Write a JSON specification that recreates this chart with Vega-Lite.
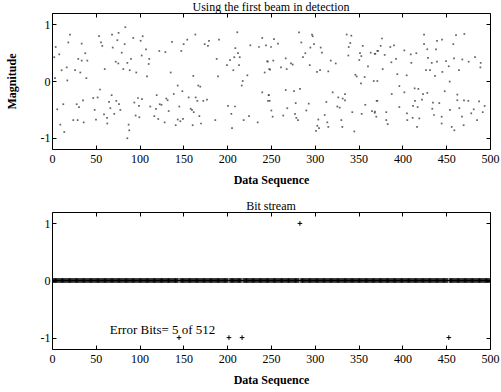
{
  "$schema": "https://vega.github.io/schema/vega-lite/v6.json",
  "padding": {"left": 4, "top": 0, "right": 0, "bottom": 0},
  "background": "white",
  "spacing": 13,
  "config": {
    "font": "Liberation Serif",
    "view": {"stroke": "black", "strokeWidth": 1},
    "axis": {"domain": false, "grid": false, "ticks": true, "tickSize": -4, "tickColor": "black", "labelFont": "Liberation Serif", "labelFontSize": 12, "labelColor": "black", "titleFont": "Liberation Serif", "titleFontSize": 12, "titleFontWeight": "bold", "titleColor": "black"},
    "axisX": {"labelPadding": 8},
    "axisY": {"labelPadding": 6},
    "title": {"font": "Liberation Serif", "fontSize": 12, "fontWeight": "normal", "color": "black", "offset": -1}
  },
  "vconcat": [
    {
      "width": 438, "height": 136,
      "title": "Using the first beam in detection",
      "data": {"values": [
{"n":83.7,"m":0.95},{"n":20.5,"m":0.82},{"n":53.7,"m":0.79},{"n":68.5,"m":0.82},{"n":92.8,"m":0.76},{"n":103.5,"m":0.79},{"n":76,"m":0.85},{"n":74.6,"m":0.72},{"n":101.2,"m":0.71},{"n":18.6,"m":0.68},{"n":33.9,"m":0.66},{"n":55.9,"m":0.68},{"n":57.4,"m":0.62},{"n":83,"m":0.65},{"n":69.3,"m":0.59},{"n":4.2,"m":0.6},{"n":107.3,"m":0.56},{"n":122.5,"m":0.53},{"n":79.6,"m":0.5},{"n":38,"m":0.49},{"n":8.3,"m":0.47},{"n":102.4,"m":0.45},{"n":2.6,"m":0.42},{"n":30,"m":0.39},{"n":111,"m":0.39},{"n":90.2,"m":0.39},{"n":33.9,"m":0.36},{"n":40.3,"m":0.36},{"n":72.7,"m":0.34},{"n":75.7,"m":0.31},{"n":86,"m":0.32},{"n":110.4,"m":0.3},{"n":16.8,"m":0.24},{"n":11,"m":0.19},{"n":26.3,"m":0.19},{"n":32.3,"m":0.15},{"n":60.2,"m":0.21},{"n":81.4,"m":0.21},{"n":88.7,"m":0.19},{"n":96.2,"m":0.15},{"n":108.4,"m":0.08},{"n":39.2,"m":0.05},{"n":3.4,"m":0.05},{"n":17.5,"m":0.01},{"n":54.8,"m":-0.15},{"n":68.1,"m":-0.25},{"n":119.5,"m":-0.25},{"n":47.1,"m":-0.3},{"n":52.1,"m":-0.29},{"n":35.4,"m":-0.34},{"n":98.2,"m":-0.3},{"n":102.7,"m":-0.32},{"n":73.4,"m":-0.35},{"n":65.1,"m":-0.37},{"n":94,"m":-0.38},{"n":12.9,"m":-0.41},{"n":28.2,"m":-0.41},{"n":76.5,"m":-0.41},{"n":99.3,"m":-0.44},{"n":123,"m":-0.41},{"n":112.2,"m":-0.45},{"n":30.8,"m":-0.46},{"n":66.6,"m":-0.48},{"n":6,"m":-0.5},{"n":48.7,"m":-0.51},{"n":78,"m":-0.51},{"n":118.7,"m":-0.49},{"n":59.4,"m":-0.59},{"n":71.1,"m":-0.58},{"n":95.5,"m":-0.61},{"n":99.7,"m":-0.64},{"n":116.8,"m":-0.62},{"n":121.3,"m":-0.67},{"n":24.3,"m":-0.69},{"n":29.3,"m":-0.69},{"n":50.2,"m":-0.68},{"n":62.8,"m":-0.65},{"n":36.2,"m":-0.73},{"n":9.5,"m":-0.77},{"n":87.5,"m":-0.77},{"n":63.1,"m":-0.75},{"n":88.2,"m":-0.87},{"n":14,"m":-0.9},{"n":86,"m":-1.01},
{"n":163.6,"m":0.82},{"n":211.5,"m":0.86},{"n":150.3,"m":0.65},{"n":154.4,"m":0.73},{"n":137,"m":0.69},{"n":174.3,"m":0.65},{"n":179.2,"m":0.71},{"n":190.6,"m":0.73},{"n":178,"m":0.62},{"n":129.4,"m":0.51},{"n":147.6,"m":0.53},{"n":226.4,"m":0.63},{"n":240,"m":0.76},{"n":244.3,"m":0.63},{"n":236.3,"m":0.6},{"n":209.3,"m":0.58},{"n":212.3,"m":0.49},{"n":214.3,"m":0.42},{"n":208.1,"m":0.42},{"n":188,"m":0.39},{"n":203.2,"m":0.37},{"n":245.8,"m":0.35},{"n":213.5,"m":0.28},{"n":199.8,"m":0.28},{"n":207,"m":0.19},{"n":248,"m":0.21},{"n":242.8,"m":0.15},{"n":135.5,"m":0.15},{"n":161.3,"m":0.09},{"n":223,"m":0.1},{"n":189.5,"m":0.08},{"n":217.7,"m":0.0},{"n":143.5,"m":-0.08},{"n":167,"m":-0.08},{"n":169.3,"m":-0.1},{"n":216.6,"m":-0.08},{"n":148.8,"m":-0.18},{"n":139,"m":-0.23},{"n":240,"m":-0.2},{"n":247.4,"m":-0.25},{"n":156,"m":-0.29},{"n":164,"m":-0.29},{"n":130.5,"m":-0.31},{"n":132,"m":-0.34},{"n":172.7,"m":-0.35},{"n":176.9,"m":-0.33},{"n":165.9,"m":-0.35},{"n":248.5,"m":-0.35},{"n":125,"m":-0.42},{"n":200.9,"m":-0.44},{"n":208.9,"m":-0.45},{"n":145.3,"m":-0.45},{"n":158.3,"m":-0.49},{"n":159.8,"m":-0.51},{"n":133.2,"m":-0.53},{"n":161.8,"m":-0.55},{"n":204.7,"m":-0.58},{"n":168.2,"m":-0.62},{"n":224.9,"m":-0.62},{"n":143.5,"m":-0.68},{"n":149.5,"m":-0.67},{"n":146.5,"m":-0.71},{"n":186.4,"m":-0.69},{"n":218.8,"m":-0.69},{"n":234.8,"m":-0.73},{"n":128.6,"m":-0.73},{"n":170.1,"m":-0.75},{"n":141.2,"m":-0.78},{"n":160.6,"m":-0.78},{"n":205.5,"m":-0.83},
{"n":297.6,"m":0.79},{"n":296.8,"m":0.82},{"n":282,"m":0.86},{"n":336.4,"m":0.82},{"n":341.7,"m":0.8},{"n":253.4,"m":0.74},{"n":284.6,"m":0.68},{"n":258,"m":0.66},{"n":340.5,"m":0.67},{"n":299.1,"m":0.65},{"n":354.7,"m":0.62},{"n":250,"m":0.6},{"n":294.9,"m":0.59},{"n":306.7,"m":0.59},{"n":338.7,"m":0.6},{"n":289.2,"m":0.49},{"n":308.2,"m":0.5},{"n":351.6,"m":0.49},{"n":363.8,"m":0.5},{"n":369.1,"m":0.48},{"n":371.4,"m":0.53},{"n":353.1,"m":0.44},{"n":266.8,"m":0.4},{"n":286.5,"m":0.42},{"n":246.2,"m":0.34},{"n":252.6,"m":0.36},{"n":272.8,"m":0.31},{"n":274.8,"m":0.29},{"n":318.2,"m":0.36},{"n":323.9,"m":0.31},{"n":338.3,"m":0.45},{"n":350.8,"m":0.37},{"n":360.7,"m":0.26},{"n":294.2,"m":0.28},{"n":261.4,"m":0.24},{"n":267.9,"m":0.21},{"n":248.9,"m":0.2},{"n":302.5,"m":0.16},{"n":315.4,"m":0.17},{"n":306,"m":0.19},{"n":346.3,"m":0.11},{"n":347.8,"m":0.08},{"n":356.9,"m":0.07},{"n":352.7,"m":-0.04},{"n":367.3,"m":0.0},{"n":266.8,"m":-0.16},{"n":283.1,"m":-0.14},{"n":276.3,"m":-0.18},{"n":320.4,"m":-0.2},{"n":334.5,"m":-0.23},{"n":247.4,"m":-0.25},{"n":326.8,"m":-0.29},{"n":331.8,"m":-0.31},{"n":334.5,"m":-0.34},{"n":246.6,"m":-0.35},{"n":313.2,"m":-0.37},{"n":293.1,"m":-0.4},{"n":371.4,"m":-0.35},{"n":357.6,"m":-0.42},{"n":278.2,"m":-0.39},{"n":325.7,"m":-0.45},{"n":328.4,"m":-0.47},{"n":268.6,"m":-0.48},{"n":250.4,"m":-0.52},{"n":290.3,"m":-0.52},{"n":342.8,"m":-0.55},{"n":365.3,"m":-0.53},{"n":368.4,"m":-0.56},{"n":277.4,"m":-0.58},{"n":311.3,"m":-0.6},{"n":353.5,"m":-0.58},{"n":251.9,"m":-0.63},{"n":264,"m":-0.61},{"n":278.9,"m":-0.65},{"n":280.8,"m":-0.69},{"n":304,"m":-0.68},{"n":330.3,"m":-0.69},{"n":314.3,"m":-0.73},{"n":370.2,"m":-0.63},{"n":302.9,"m":-0.79},{"n":315.4,"m":-0.81},{"n":304.8,"m":-0.83},{"n":331.4,"m":-0.81},{"n":301.4,"m":-0.88},{"n":345.1,"m":-0.89},
{"n":424.7,"m":0.82},{"n":461.2,"m":0.81},{"n":470.7,"m":0.83},{"n":376.7,"m":0.75},{"n":439.5,"m":0.71},{"n":445.2,"m":0.73},{"n":424.7,"m":0.65},{"n":458.1,"m":0.65},{"n":375.2,"m":0.62},{"n":386.2,"m":0.6},{"n":390.4,"m":0.63},{"n":428.4,"m":0.56},{"n":438.4,"m":0.56},{"n":402.2,"m":0.54},{"n":415.9,"m":0.49},{"n":409.5,"m":0.47},{"n":368.4,"m":0.48},{"n":379.8,"m":0.46},{"n":372.2,"m":0.53},{"n":429.2,"m":0.41},{"n":458.9,"m":0.4},{"n":468.4,"m":0.38},{"n":482.9,"m":0.42},{"n":489.4,"m":0.32},{"n":392.7,"m":0.39},{"n":387.4,"m":0.33},{"n":410.2,"m":0.32},{"n":433.5,"m":0.32},{"n":439.5,"m":0.34},{"n":449.8,"m":0.35},{"n":475.7,"m":0.34},{"n":489,"m":0.24},{"n":452.9,"m":0.26},{"n":377.5,"m":0.21},{"n":426.9,"m":0.19},{"n":431.5,"m":0.19},{"n":445.6,"m":0.16},{"n":464.6,"m":0.19},{"n":394.2,"m":0.12},{"n":404.9,"m":0.1},{"n":437.2,"m":0.09},{"n":371.4,"m":0.0},{"n":454,"m":-0.01},{"n":396.5,"m":-0.09},{"n":414,"m":-0.13},{"n":418.2,"m":-0.14},{"n":448.3,"m":-0.18},{"n":387.8,"m":-0.23},{"n":402.2,"m":-0.2},{"n":423.5,"m":-0.23},{"n":428.4,"m":-0.21},{"n":462.7,"m":-0.24},{"n":370.6,"m":-0.35},{"n":414.4,"m":-0.35},{"n":422.4,"m":-0.33},{"n":434.9,"m":-0.38},{"n":442.1,"m":-0.39},{"n":462.7,"m":-0.34},{"n":470.3,"m":-0.34},{"n":475.2,"m":-0.35},{"n":487.5,"m":-0.36},{"n":396.5,"m":-0.46},{"n":417.4,"m":-0.46},{"n":412.1,"m":-0.44},{"n":465,"m":-0.48},{"n":481.4,"m":-0.5},{"n":493.9,"m":-0.44},{"n":434.1,"m":-0.49},{"n":454.3,"m":-0.51},{"n":368.7,"m":-0.54},{"n":381.6,"m":-0.55},{"n":405.2,"m":-0.57},{"n":436.1,"m":-0.6},{"n":478.6,"m":-0.57},{"n":491.7,"m":-0.55},{"n":411.7,"m":-0.65},{"n":419.3,"m":-0.66},{"n":444.8,"m":-0.63},{"n":468,"m":-0.63},{"n":381.6,"m":-0.69},{"n":405.6,"m":-0.69},{"n":485.2,"m":-0.69},{"n":383.2,"m":-0.76},{"n":444.8,"m":-0.75},{"n":469.9,"m":-0.78},{"n":416.7,"m":-0.81},{"n":456.3,"m":-0.81},{"n":459.3,"m":-0.87}
      ]},
      "layer": [
        {
          "mark": {"type": "point", "shape": "square", "filled": true, "size": 3, "color": "#4a4a4a", "opacity": 0.85, "clip": true},
          "encoding": {
            "x": {"field": "n", "type": "quantitative", "scale": {"domain": [0, 500], "nice": false, "zero": false},
                  "axis": {"orient": "bottom", "values": [0,50,100,150,200,250,300,350,400,450,500], "title": "Data Sequence", "titlePadding": 10, "labelFlush": false, "labelOverlap": false}},
            "y": {"field": "m", "type": "quantitative", "scale": {"domain": [-1.2, 1.2], "nice": false, "zero": false},
                  "axis": {"orient": "left", "values": [-1, 0, 1], "title": "Magnitude", "titlePadding": 22, "labelExpr": "datum.value < 0 ? '-' + abs(datum.value) : datum.label"}}
          }
        },
        {
          "mark": {"type": "point", "opacity": 0},
          "encoding": {
            "x": {"field": "n", "type": "quantitative", "scale": {"domain": [0, 500], "nice": false, "zero": false},
                  "axis": {"orient": "top", "values": [0,50,100,150,200,250,300,350,400,450,500], "labels": false, "title": null}},
            "y": {"field": "m", "type": "quantitative", "scale": {"domain": [-1.2, 1.2], "nice": false, "zero": false},
                  "axis": {"orient": "right", "values": [-1, 0, 1], "labels": false, "title": null}}
          }
        }
      ],
      "resolve": {"axis": {"x": "independent", "y": "independent"}}
    },
    {
      "width": 438, "height": 137,
      "title": "Bit stream",
      "layer": [
        {
          "data": {"values": [
{"n":1,"b":0},{"n":2,"b":0},{"n":3,"b":0},{"n":4,"b":0},{"n":5,"b":0},{"n":6,"b":0},{"n":7,"b":0},{"n":8,"b":0},{"n":9,"b":0},{"n":10,"b":0},
{"n":11,"b":0},{"n":12,"b":0},{"n":13,"b":0},{"n":14,"b":0},{"n":15,"b":0},{"n":16,"b":0},{"n":17,"b":0},{"n":18,"b":0},{"n":19,"b":0},{"n":20,"b":0},
{"n":21,"b":0},{"n":22,"b":0},{"n":23,"b":0},{"n":24,"b":0},{"n":25,"b":0},{"n":26,"b":0},{"n":27,"b":0},{"n":28,"b":0},{"n":29,"b":0},{"n":30,"b":0},
{"n":31,"b":0},{"n":32,"b":0},{"n":33,"b":0},{"n":34,"b":0},{"n":35,"b":0},{"n":36,"b":0},{"n":37,"b":0},{"n":38,"b":0},{"n":39,"b":0},{"n":40,"b":0},
{"n":41,"b":0},{"n":42,"b":0},{"n":43,"b":0},{"n":44,"b":0},{"n":45,"b":0},{"n":46,"b":0},{"n":47,"b":0},{"n":48,"b":0},{"n":49,"b":0},{"n":50,"b":0},
{"n":51,"b":0},{"n":52,"b":0},{"n":53,"b":0},{"n":54,"b":0},{"n":55,"b":0},{"n":56,"b":0},{"n":57,"b":0},{"n":58,"b":0},{"n":59,"b":0},{"n":60,"b":0},
{"n":61,"b":0},{"n":62,"b":0},{"n":63,"b":0},{"n":64,"b":0},{"n":65,"b":0},{"n":66,"b":0},{"n":67,"b":0},{"n":68,"b":0},{"n":69,"b":0},{"n":70,"b":0},
{"n":71,"b":0},{"n":72,"b":0},{"n":73,"b":0},{"n":74,"b":0},{"n":75,"b":0},{"n":76,"b":0},{"n":77,"b":0},{"n":78,"b":0},{"n":79,"b":0},{"n":80,"b":0},
{"n":81,"b":0},{"n":82,"b":0},{"n":83,"b":0},{"n":84,"b":0},{"n":85,"b":0},{"n":86,"b":0},{"n":87,"b":0},{"n":88,"b":0},{"n":89,"b":0},{"n":90,"b":0},
{"n":91,"b":0},{"n":92,"b":0},{"n":93,"b":0},{"n":94,"b":0},{"n":95,"b":0},{"n":96,"b":0},{"n":97,"b":0},{"n":98,"b":0},{"n":99,"b":0},{"n":100,"b":0},
{"n":101,"b":0},{"n":102,"b":0},{"n":103,"b":0},{"n":104,"b":0},{"n":105,"b":0},{"n":106,"b":0},{"n":107,"b":0},{"n":108,"b":0},{"n":109,"b":0},{"n":110,"b":0},
{"n":111,"b":0},{"n":112,"b":0},{"n":113,"b":0},{"n":114,"b":0},{"n":115,"b":0},{"n":116,"b":0},{"n":117,"b":0},{"n":118,"b":0},{"n":119,"b":0},{"n":120,"b":0},
{"n":121,"b":0},{"n":122,"b":0},{"n":123,"b":0},{"n":124,"b":0},{"n":125,"b":0},{"n":126,"b":0},{"n":127,"b":0},{"n":128,"b":0},{"n":129,"b":0},{"n":130,"b":0},
{"n":131,"b":0},{"n":132,"b":0},{"n":133,"b":0},{"n":134,"b":0},{"n":135,"b":0},{"n":136,"b":0},{"n":137,"b":0},{"n":138,"b":0},{"n":139,"b":0},{"n":140,"b":0},
{"n":141,"b":0},{"n":142,"b":0},{"n":143,"b":0},{"n":144,"b":0},{"n":145,"b":-1},{"n":146,"b":0},{"n":147,"b":0},{"n":148,"b":0},{"n":149,"b":0},{"n":150,"b":0},
{"n":151,"b":0},{"n":152,"b":0},{"n":153,"b":0},{"n":154,"b":0},{"n":155,"b":0},{"n":156,"b":0},{"n":157,"b":0},{"n":158,"b":0},{"n":159,"b":0},{"n":160,"b":0},
{"n":161,"b":0},{"n":162,"b":0},{"n":163,"b":0},{"n":164,"b":0},{"n":165,"b":0},{"n":166,"b":0},{"n":167,"b":0},{"n":168,"b":0},{"n":169,"b":0},{"n":170,"b":0},
{"n":171,"b":0},{"n":172,"b":0},{"n":173,"b":0},{"n":174,"b":0},{"n":175,"b":0},{"n":176,"b":0},{"n":177,"b":0},{"n":178,"b":0},{"n":179,"b":0},{"n":180,"b":0},
{"n":181,"b":0},{"n":182,"b":0},{"n":183,"b":0},{"n":184,"b":0},{"n":185,"b":0},{"n":186,"b":0},{"n":187,"b":0},{"n":188,"b":0},{"n":189,"b":0},{"n":190,"b":0},
{"n":191,"b":0},{"n":192,"b":0},{"n":193,"b":0},{"n":194,"b":0},{"n":195,"b":0},{"n":196,"b":0},{"n":197,"b":0},{"n":198,"b":0},{"n":199,"b":0},{"n":200,"b":0},
{"n":201,"b":0},{"n":202,"b":-1},{"n":203,"b":0},{"n":204,"b":0},{"n":205,"b":0},{"n":206,"b":0},{"n":207,"b":0},{"n":208,"b":0},{"n":209,"b":0},{"n":210,"b":0},
{"n":211,"b":0},{"n":212,"b":0},{"n":213,"b":0},{"n":214,"b":0},{"n":215,"b":0},{"n":216,"b":0},{"n":217,"b":-1},{"n":218,"b":0},{"n":219,"b":0},{"n":220,"b":0},
{"n":221,"b":0},{"n":222,"b":0},{"n":223,"b":0},{"n":224,"b":0},{"n":225,"b":0},{"n":226,"b":0},{"n":227,"b":0},{"n":228,"b":0},{"n":229,"b":0},{"n":230,"b":0},
{"n":231,"b":0},{"n":232,"b":0},{"n":233,"b":0},{"n":234,"b":0},{"n":235,"b":0},{"n":236,"b":0},{"n":237,"b":0},{"n":238,"b":0},{"n":239,"b":0},{"n":240,"b":0},
{"n":241,"b":0},{"n":242,"b":0},{"n":243,"b":0},{"n":244,"b":0},{"n":245,"b":0},{"n":246,"b":0},{"n":247,"b":0},{"n":248,"b":0},{"n":249,"b":0},{"n":250,"b":0},
{"n":251,"b":0},{"n":252,"b":0},{"n":253,"b":0},{"n":254,"b":0},{"n":255,"b":0},{"n":256,"b":0},{"n":257,"b":0},{"n":258,"b":0},{"n":259,"b":0},{"n":260,"b":0},
{"n":261,"b":0},{"n":262,"b":0},{"n":263,"b":0},{"n":264,"b":0},{"n":265,"b":0},{"n":266,"b":0},{"n":267,"b":0},{"n":268,"b":0},{"n":269,"b":0},{"n":270,"b":0},
{"n":271,"b":0},{"n":272,"b":0},{"n":273,"b":0},{"n":274,"b":0},{"n":275,"b":0},{"n":276,"b":0},{"n":277,"b":0},{"n":278,"b":0},{"n":279,"b":0},{"n":280,"b":0},
{"n":281,"b":0},{"n":282,"b":0},{"n":283,"b":1},{"n":284,"b":0},{"n":285,"b":0},{"n":286,"b":0},{"n":287,"b":0},{"n":288,"b":0},{"n":289,"b":0},{"n":290,"b":0},
{"n":291,"b":0},{"n":292,"b":0},{"n":293,"b":0},{"n":294,"b":0},{"n":295,"b":0},{"n":296,"b":0},{"n":297,"b":0},{"n":298,"b":0},{"n":299,"b":0},{"n":300,"b":0},
{"n":301,"b":0},{"n":302,"b":0},{"n":303,"b":0},{"n":304,"b":0},{"n":305,"b":0},{"n":306,"b":0},{"n":307,"b":0},{"n":308,"b":0},{"n":309,"b":0},{"n":310,"b":0},
{"n":311,"b":0},{"n":312,"b":0},{"n":313,"b":0},{"n":314,"b":0},{"n":315,"b":0},{"n":316,"b":0},{"n":317,"b":0},{"n":318,"b":0},{"n":319,"b":0},{"n":320,"b":0},
{"n":321,"b":0},{"n":322,"b":0},{"n":323,"b":0},{"n":324,"b":0},{"n":325,"b":0},{"n":326,"b":0},{"n":327,"b":0},{"n":328,"b":0},{"n":329,"b":0},{"n":330,"b":0},
{"n":331,"b":0},{"n":332,"b":0},{"n":333,"b":0},{"n":334,"b":0},{"n":335,"b":0},{"n":336,"b":0},{"n":337,"b":0},{"n":338,"b":0},{"n":339,"b":0},{"n":340,"b":0},
{"n":341,"b":0},{"n":342,"b":0},{"n":343,"b":0},{"n":344,"b":0},{"n":345,"b":0},{"n":346,"b":0},{"n":347,"b":0},{"n":348,"b":0},{"n":349,"b":0},{"n":350,"b":0},
{"n":351,"b":0},{"n":352,"b":0},{"n":353,"b":0},{"n":354,"b":0},{"n":355,"b":0},{"n":356,"b":0},{"n":357,"b":0},{"n":358,"b":0},{"n":359,"b":0},{"n":360,"b":0},
{"n":361,"b":0},{"n":362,"b":0},{"n":363,"b":0},{"n":364,"b":0},{"n":365,"b":0},{"n":366,"b":0},{"n":367,"b":0},{"n":368,"b":0},{"n":369,"b":0},{"n":370,"b":0},
{"n":371,"b":0},{"n":372,"b":0},{"n":373,"b":0},{"n":374,"b":0},{"n":375,"b":0},{"n":376,"b":0},{"n":377,"b":0},{"n":378,"b":0},{"n":379,"b":0},{"n":380,"b":0},
{"n":381,"b":0},{"n":382,"b":0},{"n":383,"b":0},{"n":384,"b":0},{"n":385,"b":0},{"n":386,"b":0},{"n":387,"b":0},{"n":388,"b":0},{"n":389,"b":0},{"n":390,"b":0},
{"n":391,"b":0},{"n":392,"b":0},{"n":393,"b":0},{"n":394,"b":0},{"n":395,"b":0},{"n":396,"b":0},{"n":397,"b":0},{"n":398,"b":0},{"n":399,"b":0},{"n":400,"b":0},
{"n":401,"b":0},{"n":402,"b":0},{"n":403,"b":0},{"n":404,"b":0},{"n":405,"b":0},{"n":406,"b":0},{"n":407,"b":0},{"n":408,"b":0},{"n":409,"b":0},{"n":410,"b":0},
{"n":411,"b":0},{"n":412,"b":0},{"n":413,"b":0},{"n":414,"b":0},{"n":415,"b":0},{"n":416,"b":0},{"n":417,"b":0},{"n":418,"b":0},{"n":419,"b":0},{"n":420,"b":0},
{"n":421,"b":0},{"n":422,"b":0},{"n":423,"b":0},{"n":424,"b":0},{"n":425,"b":0},{"n":426,"b":0},{"n":427,"b":0},{"n":428,"b":0},{"n":429,"b":0},{"n":430,"b":0},
{"n":431,"b":0},{"n":432,"b":0},{"n":433,"b":0},{"n":434,"b":0},{"n":435,"b":0},{"n":436,"b":0},{"n":437,"b":0},{"n":438,"b":0},{"n":439,"b":0},{"n":440,"b":0},
{"n":441,"b":0},{"n":442,"b":0},{"n":443,"b":0},{"n":444,"b":0},{"n":445,"b":0},{"n":446,"b":0},{"n":447,"b":0},{"n":448,"b":0},{"n":449,"b":0},{"n":450,"b":0},
{"n":451,"b":0},{"n":452,"b":0},{"n":453,"b":-1},{"n":454,"b":0},{"n":455,"b":0},{"n":456,"b":0},{"n":457,"b":0},{"n":458,"b":0},{"n":459,"b":0},{"n":460,"b":0},
{"n":461,"b":0},{"n":462,"b":0},{"n":463,"b":0},{"n":464,"b":0},{"n":465,"b":0},{"n":466,"b":0},{"n":467,"b":0},{"n":468,"b":0},{"n":469,"b":0},{"n":470,"b":0},
{"n":471,"b":0},{"n":472,"b":0},{"n":473,"b":0},{"n":474,"b":0},{"n":475,"b":0},{"n":476,"b":0},{"n":477,"b":0},{"n":478,"b":0},{"n":479,"b":0},{"n":480,"b":0},
{"n":481,"b":0},{"n":482,"b":0},{"n":483,"b":0},{"n":484,"b":0},{"n":485,"b":0},{"n":486,"b":0},{"n":487,"b":0},{"n":488,"b":0},{"n":489,"b":0},{"n":490,"b":0},
{"n":491,"b":0},{"n":492,"b":0},{"n":493,"b":0},{"n":494,"b":0},{"n":495,"b":0},{"n":496,"b":0},{"n":497,"b":0},{"n":498,"b":0},{"n":499,"b":0},{"n":500,"b":0},
{"n":501,"b":0},{"n":502,"b":0},{"n":503,"b":0},{"n":504,"b":0},{"n":505,"b":0},{"n":506,"b":0},{"n":507,"b":0},{"n":508,"b":0},{"n":509,"b":0},{"n":510,"b":0},
{"n":511,"b":0},{"n":512,"b":0}
          ]},
          "mark": {"type": "point", "shape": "M-1,0H1M0,-1V1", "filled": false, "size": 22, "stroke": "black", "strokeWidth": 1, "opacity": 1, "clip": true},
          "encoding": {
            "x": {"field": "n", "type": "quantitative", "scale": {"domain": [0, 500], "nice": false, "zero": false},
                  "axis": {"orient": "bottom", "values": [0,50,100,150,200,250,300,350,400,450,500], "title": "Data Sequence", "titlePadding": 10, "labelFlush": false, "labelOverlap": false}},
            "y": {"field": "b", "type": "quantitative", "scale": {"domain": [-1.2, 1.2], "nice": false, "zero": false},
                  "axis": {"orient": "left", "values": [-1, 0, 1], "title": null, "labelExpr": "datum.value < 0 ? '-' + abs(datum.value) : datum.label"}}
          }
        },
        {
          "data": {"values": [{"n": 0, "b": 0}]},
          "mark": {"type": "point", "opacity": 0},
          "encoding": {
            "x": {"field": "n", "type": "quantitative", "scale": {"domain": [0, 500], "nice": false, "zero": false},
                  "axis": {"orient": "top", "values": [0,50,100,150,200,250,300,350,400,450,500], "labels": false, "title": null}},
            "y": {"field": "b", "type": "quantitative", "scale": {"domain": [-1.2, 1.2], "nice": false, "zero": false},
                  "axis": {"orient": "right", "values": [-1, 0, 1], "labels": false, "title": null}}
          }
        },
        {
          "data": {"values": [{"label": "Error Bits= 5 of 512"}]},
          "mark": {"type": "text", "align": "left", "baseline": "middle", "fontSize": 13, "font": "Liberation Serif", "color": "black"},
          "encoding": {
            "x": {"datum": 66, "type": "quantitative", "scale": {"domain": [0, 500], "nice": false, "zero": false}, "axis": null},
            "y": {"datum": -0.87, "type": "quantitative", "scale": {"domain": [-1.2, 1.2], "nice": false, "zero": false}, "axis": null},
            "text": {"field": "label"}
          }
        }
      ],
      "resolve": {"axis": {"x": "independent", "y": "independent"}}
    }
  ]
}
